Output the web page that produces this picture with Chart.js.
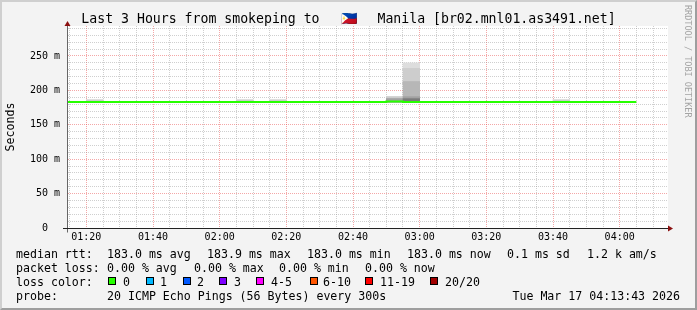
<!DOCTYPE html>
<html>
<head>
<meta charset="utf-8">
<title>smokeping - br02.mnl01.as3491.net</title>
<script src="https://cdn.jsdelivr.net/npm/chart.js@4/dist/chart.umd.min.js"></script>
<style>
  html, body { margin: 0; padding: 0; background: #f3f3f3; }
  #wrap { position: relative; width: 697px; height: 310px; overflow: hidden;
          font-family: "DejaVu Sans Mono", monospace; color: #000; }
  #wrap canvas { position: absolute; left: 0; top: 0; }
  #frame { position: absolute; left: 0; top: 0; width: 697px; height: 310px; box-sizing: border-box;
           border: 2px solid; border-color: #cfcfcf #9e9e9e #9e9e9e #cfcfcf; pointer-events: none; }
  #title { position: absolute; left: 0; top: 12px; width: 697px; line-height: 14px;
           font-size: 13.2px; text-align: center; white-space: pre; }
  #title .flag { display: inline-block; width: 42px; text-align: center; }
  #credit { position: absolute; left: 683px; top: 5px; writing-mode: vertical-rl;
            font-size: 8.5px; line-height: 10px; color: #a4a4a4; white-space: pre; }
  .row { position: absolute; left: 0; width: 697px; height: 14px; line-height: 14px; font-size: 11.6px; }
  .row span { position: absolute; top: 0; white-space: pre; }
  .row span.box { top: 2px; width: 6px; height: 6px; border: 1px solid #000; }
</style>
</head>
<body>
<div id="wrap">
  <canvas id="smoke" width="697" height="310"></canvas>
  <div id="title">Last 3 Hours from smokeping to <span class="flag">🇵🇭</span> Manila [br02.mnl01.as3491.net]</div>
  <div id="credit">RRDTOOL / TOBI OETIKER</div>

  <div class="row" style="top:247px">
    <span style="left:16px">median rtt:</span>
    <span style="left:107px">183.0 ms avg</span>
    <span style="left:207px">183.9 ms max</span>
    <span style="left:307px">183.0 ms min</span>
    <span style="left:407px">183.0 ms now</span>
    <span style="left:507px">0.1 ms sd</span>
    <span style="left:587px">1.2 k am/s</span>
  </div>
  <div class="row" style="top:261px">
    <span style="left:16px">packet loss:</span>
    <span style="left:107px">0.00 % avg</span>
    <span style="left:194px">0.00 % max</span>
    <span style="left:279px">0.00 % min</span>
    <span style="left:365px">0.00 % now</span>
  </div>
  <div class="row" style="top:275px">
    <span style="left:16px">loss color:</span>
    <span class="box" style="left:108px;background:#26ff00"></span><span style="left:123px">0</span>
    <span class="box" style="left:146px;background:#00b8ff"></span><span style="left:160px">1</span>
    <span class="box" style="left:183px;background:#0059ff"></span><span style="left:197px">2</span>
    <span class="box" style="left:219px;background:#7e00ff"></span><span style="left:234px">3</span>
    <span class="box" style="left:256px;background:#ff00ff"></span><span style="left:271px">4-5</span>
    <span class="box" style="left:310px;background:#ff5500"></span><span style="left:323px">6-10</span>
    <span class="box" style="left:365px;background:#ff0000"></span><span style="left:380px">11-19</span>
    <span class="box" style="left:430px;background:#a10000"></span><span style="left:445px">20/20</span>
  </div>
  <div class="row" style="top:289px">
    <span style="left:16px">probe:</span>
    <span style="left:107px">20 ICMP Echo Pings (56 Bytes) every 300s</span>
    <span style="right:17px">Tue Mar 17 04:13:43 2026</span>
  </div>
  <div id="frame"></div>
</div>

<script>
// 5 minute steps, value covers [t, t+5)
const stepTimes = ['01:10','01:15','01:20','01:25','01:30','01:35','01:40','01:45','01:50','01:55',
                   '02:00','02:05','02:10','02:15','02:20','02:25','02:30','02:35','02:40','02:45',
                   '02:50','02:55','03:00','03:05','03:10','03:15','03:20','03:25','03:30','03:35',
                   '03:40','03:45','03:50','03:55','04:00'];
const medianRtt = [183.0,183.0,183.0,183.0,183.0,183.0,183.0,183.0,183.0,183.0,
                   183.0,183.0,183.0,183.0,183.0,183.0,183.0,183.0,183.0,183.0,
                   183.0,183.9,183.0,183.0,183.0,183.0,183.0,183.0,183.0,183.0,
                   183.0,183.0,183.0,183.0,183.0];
const lastStepEnd = '04:05';

// smoke (ping spread) for the steps where it shows above the median line
const smokeTimes = ['01:20','02:05','02:15','02:50','02:55','03:40'];
const smokeMin   = [182.8, 182.8, 182.8, 182.8, 182.8, 182.8];
const smokeQ1    = [184.0, 184.0, 184.0, 184.0, 188.0, 184.0];
const smokeQ2    = [184.0, 184.0, 184.0, 188.0, 191.0, 184.0];
const smokeQ3    = [184.0, 184.0, 184.0, 188.0, 213.0, 184.0];
const smokeQ4    = [186.3, 186.3, 186.3, 191.0, 232.0, 186.3];
const smokeMax   = [186.3, 186.3, 186.3, 191.0, 240.0, 186.3];

const xTickLabels = ['01:20','01:40','02:00','02:20','02:40','03:00','03:20','03:40','04:00'];
const yTickLabels = ['0','50 m','100 m','150 m','200 m','250 m'];

const FONT = '"DejaVu Sans Mono", monospace';
const toMin = s => { const p = s.split(':').map(Number); return p[0] * 60 + p[1]; };
const fmtMin = v => { const h = Math.floor(v / 60), m = Math.round(v - h * 60);
                      return String(h).padStart(2, '0') + ':' + String(m).padStart(2, '0'); };
const isMajorX = v => xTickLabels.includes(fmtMin(v));
const isMajorY = v => v % 50 === 0;

const MINOR = 'rgba(140,140,140,0.42)';
const MAJOR = 'rgba(230,60,60,0.45)';

function smokeBand(lower, upper, color) {
  return {
    type: 'bar',
    data: smokeTimes.map((t, i) => ({ x: toMin(t) + 2.5, y: [lower[i], upper[i]] })),
    backgroundColor: color,
    borderWidth: 0,
    grouped: false,
    categoryPercentage: 1,
    barPercentage: 1,
    order: 2
  };
}

const medianPoints = stepTimes.map((t, i) => ({ x: toMin(t), y: medianRtt[i] }));
medianPoints.push({ x: toMin(lastStepEnd), y: medianRtt[medianRtt.length - 1] });

const rrdFrame = {
  id: 'rrdFrame',
  beforeDraw(chart) {
    const { ctx, chartArea: a } = chart;
    ctx.save();
    ctx.fillStyle = '#ffffff';
    ctx.fillRect(a.left, a.top, a.right - a.left + 1, a.bottom - a.top);
    ctx.restore();
  },
  afterDraw(chart) {
    const { ctx, chartArea: a } = chart;
    const x0 = Math.round(a.left) + 0.5, y0 = Math.round(a.bottom) + 0.5;
    ctx.save();
    ctx.lineWidth = 1;
    ctx.strokeStyle = '#666666';
    ctx.beginPath(); ctx.moveTo(x0, y0 + 4); ctx.lineTo(x0, a.top - 3); ctx.stroke();
    ctx.strokeStyle = '#222222';
    ctx.beginPath(); ctx.moveTo(a.left - 4, y0); ctx.lineTo(a.right + 3, y0); ctx.stroke();
    ctx.fillStyle = '#8b1010';
    ctx.beginPath(); ctx.moveTo(x0, a.top - 5); ctx.lineTo(x0 - 3, a.top); ctx.lineTo(x0 + 3, a.top); ctx.closePath(); ctx.fill();
    ctx.beginPath(); ctx.moveTo(a.right + 6, y0); ctx.lineTo(a.right + 1, y0 - 3); ctx.lineTo(a.right + 1, y0 + 3); ctx.closePath(); ctx.fill();
    ctx.restore();
  }
};

new Chart(document.getElementById('smoke'), {
  type: 'line',
  data: {
    datasets: [
      {
        label: 'median rtt',
        data: medianPoints,
        borderColor: '#26ff00',
        borderWidth: 2,
        borderCapStyle: 'butt',
        stepped: 'after',
        pointRadius: 0,
        fill: false,
        clip: 0,
        order: 0
      },
      smokeBand(smokeMin, smokeQ1, '#7c7c7c'),
      smokeBand(smokeQ1, smokeQ2, '#a2a2a2'),
      smokeBand(smokeQ2, smokeQ3, '#b7b7b7'),
      smokeBand(smokeQ3, smokeQ4, '#cdcdcd'),
      smokeBand(smokeQ4, smokeMax, '#dddddd')
    ]
  },
  options: {
    responsive: false,
    animation: false,
    events: [],
    layout: { padding: { left: 0, top: 26, right: 30, bottom: 62 } },
    plugins: { legend: { display: false }, tooltip: { enabled: false }, title: { display: false } },
    scales: {
      x: {
        type: 'linear',
        min: 74.2,
        max: 254.2,
        offset: false,
        afterFit: s => { s.height = 20; },
        afterBuildTicks: s => {
          const t = [];
          for (let v = 75; v <= 250; v += 5) t.push({ value: v });
          s.ticks = t;
        },
        grid: {
          offset: false,
          drawTicks: false,
          lineWidth: 1,
          color: c => isMajorX(c.tick.value) ? MAJOR : MINOR
        },
        border: { display: true, color: '#222222', dash: [1, 1] },
        ticks: {
          autoSkip: false, maxRotation: 0, minRotation: 0, padding: 3,
          color: '#000', font: { family: FONT, size: 10 },
          callback: v => isMajorX(v) ? fmtMin(v) : ''
        }
      },
      y: {
        type: 'linear',
        min: 0,
        max: 293.6,
        afterFit: s => { s.width = 67; },
        afterBuildTicks: s => {
          const t = [];
          for (let v = 0; v <= 290; v += 10) t.push({ value: v });
          s.ticks = t;
        },
        grid: {
          drawTicks: false,
          lineWidth: 1,
          color: c => isMajorY(c.tick.value) ? MAJOR : MINOR
        },
        border: { display: true, color: '#666666', dash: [1, 1] },
        title: {
          display: true, text: 'Seconds', color: '#000',
          font: { family: FONT, size: 11.6 }, padding: { top: 4, bottom: 4 }
        },
        ticks: {
          autoSkip: false, padding: 7,
          color: '#000', font: { family: FONT, size: 10 },
          callback: v => {
            if (!isMajorY(v)) return '';
            const lbl = yTickLabels[v / 50];
            return lbl.includes(' m') ? lbl : lbl + '  ';
          }
        }
      }
    }
  },
  plugins: [rrdFrame]
});
</script>
</body>
</html>
